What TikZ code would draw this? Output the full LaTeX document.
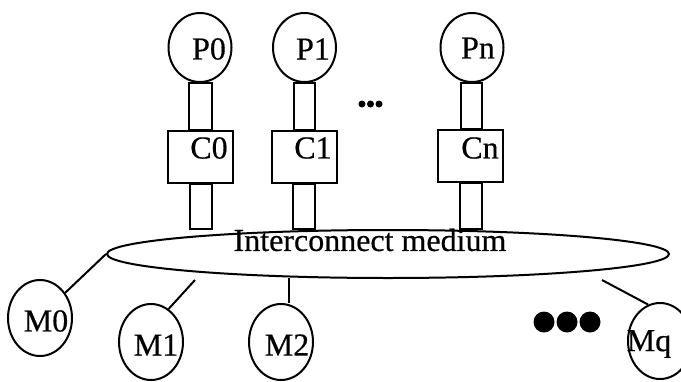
\documentclass[tikz,border=0pt]{standalone}
\usepackage{fontspec}
\setmainfont{Liberation Serif}[FakeBold=0.5]
\usetikzlibrary{shapes.geometric}
\begin{document}
\begin{tikzpicture}[x=1pt,y=-1pt,line width=2pt,
  proc/.style={draw,ellipse,minimum width=63pt,minimum height=69pt,inner sep=0pt},
  mem/.style={draw,ellipse,minimum width=64pt,minimum height=76pt,inner sep=0pt},
  cache/.style={draw,rectangle,minimum width=65pt,minimum height=52pt,inner sep=0pt},
  lbl/.style={font=\fontsize{32}{34}\selectfont,inner sep=0pt},
  bigdot/.style={circle,fill,minimum size=21pt,inner sep=0pt},
  smalldot/.style={circle,fill,minimum size=7pt,inner sep=0pt}]
\useasboundingbox (0,0) rectangle (681,381);
% processors
\node[proc] (P0) at (200,47.5) {};
\node[proc] (P1) at (304.5,47.5) {};
\node[proc] (Pn) at (472,47.5) {};
% caches
\node[cache] (C0) at (200.5,157) {};
\node[cache] (C1) at (304,157) {};
\node[cache] (Cn) at (470.5,156) {};
% interconnect
\node[draw,ellipse,minimum width=562pt,minimum height=48pt,inner sep=0pt] (bus) at (388,254) {};
% links processor -> cache -> interconnect
\foreach \p/\c in {P0/C0,P1/C1,Pn/Cn}{
  \draw ([xshift=-11pt]\p.south) rectangle ([xshift=11pt]\c.north);
  \draw ([xshift=-11pt]\c.south) rectangle ([xshift=11pt]\c.south |- bus.north);
}
% labels
\node[lbl] (tP0) at (209,49) {P0};
\node[lbl] (tP1) at (313,49) {P1};
\node[lbl] (tPn) at (478,48) {Pn};
\node[lbl] (tC0) at (209,148) {C0};
\node[lbl] (tC1) at (313,148) {C1};
\node[lbl] (tCn) at (480,148) {Cn};
\node[lbl] (tbus) at (370,240) {Interconnect medium};
% memories
\node[mem] (M0) at (40,318) {};
\node[mem] (M1) at (151,342) {};
\node[mem] (M2) at (281,342) {};
\node[mem] (Mq) at (660,341) {};
\node[lbl] (tM0) at (46,321) {M0};
\node[lbl] (tM1) at (156,345) {M1};
\node[lbl] (tM2) at (287,345) {M2};
\node[lbl] (tMq) at (649,344) {Mq};
% memory links
\coordinate (m1top) at (195,280);
\coordinate (m2top) at (289,278);
\coordinate (mqtop) at (602,280);
\draw (bus.west) -- (M0.45);
\draw (m1top) -- (M1.62);
\draw (m2top) -- (m2top |- M2.north);
\draw (mqtop) -- (Mq.108);
% ellipses of omission
\foreach \x [count=\i] in {362,370.5,379}{\node[smalldot] (s\i) at (\x,104) {};}
\foreach \x [count=\i] in {544,567,590}{\node[bigdot] (b\i) at (\x,322) {};}
\end{tikzpicture}
\end{document}
